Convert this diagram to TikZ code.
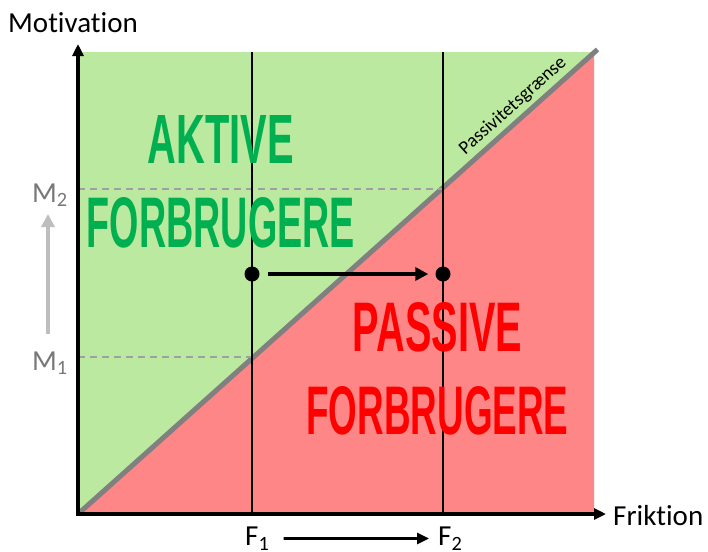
\documentclass[tikz,border=0pt]{standalone}
\usepackage{fontspec}
\setmainfont{Carlito}[Ligatures=CommonOff]
\newfontfamily\bigfont{Liberation Sans}
\usetikzlibrary{arrows.meta}
\definecolor{bggreen}{RGB}{187,233,159}
\definecolor{bgred}{RGB}{255,134,134}
\definecolor{txtgreen}{RGB}{0,176,80}
\definecolor{txtred}{RGB}{255,0,0}
\definecolor{diaggray}{RGB}{128,128,128}
\definecolor{dashgray}{RGB}{160,160,160}
\definecolor{labgray}{RGB}{120,120,120}
\definecolor{arrgray}{RGB}{190,190,190}
\begin{document}
\begin{tikzpicture}[x=1pt,y=-1pt,
  axis/.style={line width=3.2pt,-{Triangle[length=12pt,width=11pt]}},
  vline/.style={line width=1.8pt},
  diag/.style={line width=5pt,diaggray},
  dashline/.style={line width=1.5pt,dashgray,dash pattern=on 7pt off 5pt},
  dot/.style={circle,fill=black,minimum size=15pt,inner sep=0pt},
  arr/.style={line width=3.3pt,-{Triangle[length=13pt,width=13pt]}},
  lab/.style={font=\fontsize{29}{32}\selectfont,inner sep=0pt},
  glab/.style={font=\fontsize{29}{32}\selectfont,text=labgray,inner sep=0pt},
  big/.style={inner sep=0pt}]
\useasboundingbox (0,0) rectangle (708,551);
% regions
\fill[bggreen] (78,52) rectangle (594,514);
\fill[bgred] (78,514) -- (594,514) -- (594,52.7) -- cycle;
% coordinates
\coordinate (O) at (78,514);
\coordinate (Dend) at (597.5,49.5);
\coordinate (F1top) at (252,52);
\coordinate (F1bot) at (252,514);
\coordinate (F2top) at (443,52);
\coordinate (F2bot) at (443,514);
\coordinate (M2l) at (78,189);
\coordinate (M2r) at (443,189);
\coordinate (M1l) at (78,357);
\coordinate (M1r) at (252,357);
\coordinate (Ytip) at (78,44);
\coordinate (Xtip) at (606,514);
\coordinate (Mlow) at (48,334);
\coordinate (Mhigh) at (48,214);
% diagonal
\draw[diag] (O) -- (Dend);
% dashed
\draw[dashline] (M2l) -- (M2r);
\draw[dashline] (M1l) -- (M1r);
% vertical lines
\draw[vline] (F1top) -- (F1bot);
\draw[vline] (F2top) -- (F2bot);
% big texts
\node[big,text=txtgreen] (akt) at (221,139) {\resizebox{146pt}{48pt}{\bigfont\bfseries AKTIVE}};
\node[big,text=txtgreen] (aktf) at (221,223) {\resizebox{268pt}{50pt}{\bigfont\bfseries FORBRUGERE}};
\node[big,text=txtred] (pas) at (437.5,327.5) {\resizebox{169pt}{49pt}{\bigfont\bfseries PASSIVE}};
\node[big,text=txtred] (pasf) at (437.5,411) {\resizebox{262pt}{48pt}{\bigfont\bfseries FORBRUGERE}};
% boundary label
\node[font=\fontsize{19}{20}\selectfont,rotate=41.8,inner sep=0pt] (pg) at (513,106) {Passivitetsgrænse};
% dots and arrow
\node[dot] (d1) at (252,274) {};
\node[dot] (d2) at (443,274) {};
\draw[arr,shorten <=8pt,shorten >=7pt] (d1) -- (d2);
% axes
\draw[axis] (76.4,514) -- (Xtip);
\draw[axis] (78,515.6) -- (Ytip);
% axis labels
\node[lab,anchor=base west] (mot) at (8,33) {Motivation};
\node[lab,anchor=base west] (fri) at (613,525) {Friktion};
\node[glab,anchor=base west] (m2) at (32,202) {M\textsubscript{2}};
\node[glab,anchor=base west] (m1) at (32,370) {M\textsubscript{1}};
\draw[line width=3.5pt,arrgray,-{Triangle[length=13pt,width=13pt]}] (Mlow) -- (Mhigh);
\node[lab,anchor=base west] (f1) at (245,545.5) {F\textsubscript{1}};
\node[lab,anchor=base west] (f2) at (438,545.5) {F\textsubscript{2}};
\draw[arr,line width=2.8pt,-{Triangle[length=12pt,width=11pt]},shorten <=14pt,shorten >=9pt] (f1) -- (f2);
\end{tikzpicture}
\end{document}
